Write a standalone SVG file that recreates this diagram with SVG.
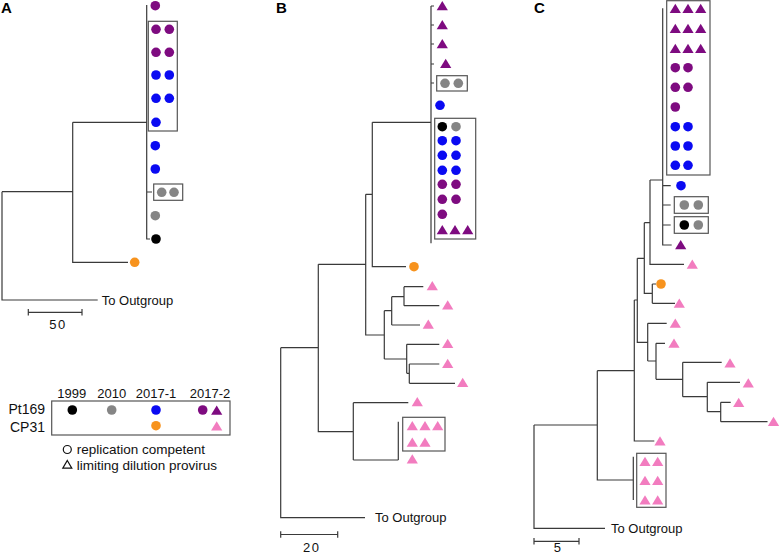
<svg xmlns="http://www.w3.org/2000/svg" xmlns:xlink="http://www.w3.org/1999/xlink" width="779" height="555" viewBox="0 0 779 555">
<style>
.ln{fill:none;stroke:#3a3a3a;stroke-width:1.2}
.bx{fill:none;stroke:#555;stroke-width:1.2}
.pu{fill:#7e0b80}.bl{fill:#0a0af2}.gy{fill:#858585}.bk{fill:#000}.or{fill:#f7931e}.pk{fill:#f27cbf}
.t{font-family:"Liberation Sans",Arial,sans-serif;font-size:13px;fill:#111}
.h{font-family:"Liberation Sans",Arial,sans-serif;font-size:15px;font-weight:bold;fill:#000}
</style>
<defs>
<circle id="c" r="4.8"/>
<path id="tr" d="M0,-5 L5.6,4.2 L-5.6,4.2 Z"/>
</defs>
<rect width="779" height="555" fill="#fff"/>

<g id="panel-A">
<text class="h" x="1" y="13">A</text>
<g id="A-connectors">
<path class="ln" d="M146.7,5 V239 H150 M146.7,192 H152 M72.7,122.3 H146.7 M72.7,122.3 V262.3 H128 M2,191.7 H72.7 M2,191.7 V300 H97.7"/>
<path class="ln" d="M28.3,312.3 H82 M28.3,309 V315.6 M82,309 V315.6"/>
</g>
<g id="A-clade1">
<use href="#c" class="pu" x="155.3" y="5.7"/>
<rect class="bx" x="148.3" y="21.3" width="29" height="109.7"/>
<use href="#c" class="pu" x="156" y="29.3"/><use href="#c" class="pu" x="169.3" y="29.3"/>
<use href="#c" class="pu" x="156" y="52.3"/><use href="#c" class="pu" x="169.3" y="52.3"/>
<use href="#c" class="bl" x="156" y="75"/><use href="#c" class="bl" x="169.3" y="75"/>
<use href="#c" class="bl" x="156" y="98.3"/><use href="#c" class="bl" x="169.3" y="98.3"/>
<use href="#c" class="bl" x="156" y="122.3"/>
<use href="#c" class="bl" x="155.3" y="145.7"/>
<use href="#c" class="bl" x="155.3" y="169"/>
<rect class="bx" x="153.7" y="184" width="29" height="16.3"/>
<use href="#c" class="gy" x="161.7" y="192.3"/><use href="#c" class="gy" x="174" y="192.3"/>
<use href="#c" class="gy" x="155.3" y="215.7"/>
<use href="#c" class="bk" x="156" y="239"/>
</g>
<g id="A-cp31"><use href="#c" class="or" x="134.7" y="262.3"/></g>
<text class="t" x="101.7" y="304.5">To Outgroup</text>
<text class="t" x="58" y="329" text-anchor="middle" letter-spacing="1.5">50</text>
</g>

<g id="legend">
<text class="t" x="71.7" y="398.3" text-anchor="middle">1999</text>
<text class="t" x="111.7" y="398.3" text-anchor="middle">2010</text>
<text class="t" x="156" y="398.3" text-anchor="middle">2017-1</text>
<text class="t" x="210" y="398.3" text-anchor="middle">2017-2</text>
<text class="t" x="45" y="413.5" text-anchor="end" style="font-size:14px">Pt169</text>
<text class="t" x="45" y="431.5" text-anchor="end" style="font-size:14px">CP31</text>
<rect class="bx" x="51.7" y="401" width="178.3" height="34"/>
<use href="#c" class="bk" x="72.3" y="410"/>
<use href="#c" class="gy" x="111.7" y="410"/>
<use href="#c" class="bl" x="156" y="410"/>
<use href="#c" class="pu" x="202.7" y="410"/>
<use href="#tr" class="pu" x="216.7" y="410.5"/>
<use href="#c" class="or" x="156" y="425.7"/>
<use href="#tr" class="pk" x="216.7" y="426.2"/>
<circle cx="67.3" cy="449.5" r="4" fill="none" stroke="#111" stroke-width="1.2"/>
<text class="t" x="76.7" y="454" style="font-size:13.5px">replication competent</text>
<path d="M67.3,460.5 L71.8,468.2 L62.8,468.2 Z" fill="none" stroke="#111" stroke-width="1.2"/>
<text class="t" x="76.7" y="470" style="font-size:13.5px">limiting dilution provirus</text>
</g>

<g id="panel-B">
<text class="h" x="276" y="13">B</text>
<g id="B-connectors">
<path class="ln" d="M431,6 V243.3 M431,6 H434 M431,25 H434 M431,44 H434 M431,64 H434 M431,83 H434 M372.3,122.3 H431 M372.3,122.3 V266.7 H406 M365.7,194.3 H372.3 M365.7,194.3 V335 H384.3 M318.3,264.3 H365.7 M384.3,310.7 V359 M384.3,310.7 H391.7 M391.7,296.7 V325 M391.7,325 H420 M391.7,296.7 H404 M404,286.7 V305.7 M404,286.7 H423.3 M404,305.7 H439.3 M384.3,359 H406.7 M406.7,344.3 V373.3 M406.7,344.3 H439.3 M406.7,373.3 H409.3 M409.3,364 V383.3 M409.3,364 H439.3 M409.3,383.3 H455 M318.3,264.3 V431.7 H353.3 M353.3,402.7 V460 M353.3,402.7 H408.3 M353.3,460 H398.3 M398.3,421.7 V460 M280.7,347.7 H318.3 M280.7,347.7 V517.7 H365"/>
<path class="ln" d="M280.7,534.5 H337.7 M280.7,531.2 V537.8 M337.7,531.2 V537.8"/>
</g>
<g id="B-clade1">
<use href="#tr" class="pu" x="442.3" y="6"/>
<use href="#tr" class="pu" x="442.3" y="25"/>
<use href="#tr" class="pu" x="442.3" y="44"/>
<use href="#tr" class="pu" x="445.7" y="63.7"/>
<rect class="bx" x="436.7" y="75.7" width="30.6" height="15.3"/>
<use href="#c" class="gy" x="445" y="83.3"/><use href="#c" class="gy" x="458.3" y="83.3"/>
<use href="#c" class="bl" x="440" y="105.3"/>
<rect class="bx" x="434.7" y="118.3" width="41" height="120.7"/>
<use href="#c" class="bk" x="442.3" y="126.7"/><use href="#c" class="gy" x="456" y="126.7"/>
<use href="#c" class="bl" x="442.3" y="140.7"/><use href="#c" class="bl" x="456" y="140.7"/>
<use href="#c" class="bl" x="442.3" y="155.3"/><use href="#c" class="bl" x="456" y="155.3"/>
<use href="#c" class="bl" x="442.3" y="170.3"/><use href="#c" class="bl" x="456" y="170.3"/>
<use href="#c" class="pu" x="442.3" y="184.3"/><use href="#c" class="pu" x="456" y="184.3"/>
<use href="#c" class="pu" x="442.3" y="199.3"/><use href="#c" class="pu" x="456" y="199.3"/>
<use href="#c" class="pu" x="442.3" y="214.3"/>
<use href="#tr" class="pu" x="442.3" y="230"/><use href="#tr" class="pu" x="455" y="230"/><use href="#tr" class="pu" x="467.7" y="230"/>
</g>
<g id="B-cp31">
<use href="#c" class="or" x="414" y="266.7"/>
<use href="#tr" class="pk" x="432.3" y="286"/>
<use href="#tr" class="pk" x="447.7" y="305.3"/>
<use href="#tr" class="pk" x="428.3" y="324.5"/>
<use href="#tr" class="pk" x="447.7" y="343.7"/>
<use href="#tr" class="pk" x="447.7" y="363.7"/>
<use href="#tr" class="pk" x="462.7" y="382.7"/>
<use href="#tr" class="pk" x="417.3" y="402"/>
<rect class="bx" x="402.7" y="417.3" width="42.3" height="33.7"/>
<use href="#tr" class="pk" x="412.3" y="426"/><use href="#tr" class="pk" x="425" y="426"/><use href="#tr" class="pk" x="437.7" y="426"/>
<use href="#tr" class="pk" x="412.3" y="442.5"/><use href="#tr" class="pk" x="425" y="442.5"/>
<use href="#tr" class="pk" x="412.3" y="459.3"/>
</g>
<text class="t" x="375" y="522">To Outgroup</text>
<text class="t" x="311.7" y="551.5" text-anchor="middle" letter-spacing="1.5">20</text>
</g>

<g id="panel-C">
<text class="h" x="534" y="13">C</text>
<g id="C-connectors">
<path class="ln" d="M662.7,8.3 V245 H671.7 M662.7,185.7 H670.7 M662.7,205 H670.7 M662.7,225 H670.7 M650,180 H662.7 M650,180 V264.3 H684 M644.3,222.7 H650 M644.3,222.7 V293.3 H652.3 M652.3,284 V303.3 M652.3,284 H656 M652.3,303.3 H675 M637.3,258.3 H644.3 M637.3,258.3 V342.3 H647.7 M647.7,323.3 V361 M647.7,323.3 H666.7 M647.7,361 H656 M656,343.3 V379.3 M656,343.3 H665 M656,379.3 H682.7 M682.7,362.3 V396.7 M682.7,362.3 H721.7 M682.7,396.7 H707.3 M707.3,382.3 V411.7 M707.3,382.3 H740 M707.3,411.7 H720.7 M720.7,402.3 V421.7 M720.7,402.3 H730.7 M720.7,421.7 H767.5 M634.3,300 V441 H654.3 M634.3,300 H637.3 M597.3,370.7 H634.3 M597.3,370.7 V480 H633.3 M633.3,456.7 V500 M534,425 H597.3 M534,425 V528.3 H605"/>
<path class="ln" d="M534,541.3 H579 M534,538 V544.6 M579,538 V544.6"/>
</g>
<g id="C-clade1">
<rect class="bx" x="666.7" y="0.7" width="43.3" height="174.3"/>
<use href="#tr" class="pu" x="675.3" y="8.8"/><use href="#tr" class="pu" x="688" y="8.8"/><use href="#tr" class="pu" x="700.7" y="8.8"/>
<use href="#tr" class="pu" x="675.3" y="28.8"/><use href="#tr" class="pu" x="688" y="28.8"/><use href="#tr" class="pu" x="700.7" y="28.8"/>
<use href="#tr" class="pu" x="675.3" y="48.8"/><use href="#tr" class="pu" x="688" y="48.8"/><use href="#tr" class="pu" x="700.7" y="48.8"/>
<use href="#c" class="pu" x="675.3" y="67.7"/><use href="#c" class="pu" x="688" y="67.7"/>
<use href="#c" class="pu" x="675.3" y="87.3"/><use href="#c" class="pu" x="688" y="87.3"/>
<use href="#c" class="pu" x="675.3" y="107"/>
<use href="#c" class="bl" x="675.3" y="126.7"/><use href="#c" class="bl" x="688" y="126.7"/>
<use href="#c" class="bl" x="675.3" y="146"/><use href="#c" class="bl" x="688" y="146"/>
<use href="#c" class="bl" x="675.3" y="165.3"/><use href="#c" class="bl" x="688" y="165.3"/>
<use href="#c" class="bl" x="681" y="185.7"/>
<rect class="bx" x="674.3" y="196.7" width="34" height="16.6"/>
<use href="#c" class="gy" x="684.3" y="205"/><use href="#c" class="gy" x="698.3" y="205"/>
<rect class="bx" x="674.3" y="216.7" width="34" height="16.6"/>
<use href="#c" class="bk" x="684.3" y="225"/><use href="#c" class="gy" x="698.3" y="225"/>
<use href="#tr" class="pu" x="680.7" y="245"/>
</g>
<g id="C-cp31">
<use href="#tr" class="pk" x="692.3" y="264.5"/>
<use href="#c" class="or" x="661" y="284"/>
<use href="#tr" class="pk" x="679.3" y="303.5"/>
<use href="#tr" class="pk" x="675.3" y="323.5"/>
<use href="#tr" class="pk" x="674" y="343.5"/>
<use href="#tr" class="pk" x="730" y="363.3"/>
<use href="#tr" class="pk" x="748.3" y="383.3"/>
<use href="#tr" class="pk" x="738.7" y="402.7"/>
<use href="#tr" class="pk" x="773.5" y="421.7"/>
<use href="#tr" class="pk" x="660" y="441.3"/>
<rect class="bx" x="636.7" y="453.3" width="29.3" height="54"/>
<use href="#tr" class="pk" x="645" y="461.7"/><use href="#tr" class="pk" x="657.7" y="461.7"/>
<use href="#tr" class="pk" x="645" y="480.7"/><use href="#tr" class="pk" x="657.7" y="480.7"/>
<use href="#tr" class="pk" x="645" y="500.3"/><use href="#tr" class="pk" x="657.7" y="500.3"/>
</g>
<text class="t" x="611" y="533">To Outgroup</text>
<text class="t" x="557.3" y="551.5" text-anchor="middle">5</text>
</g>
</svg>
